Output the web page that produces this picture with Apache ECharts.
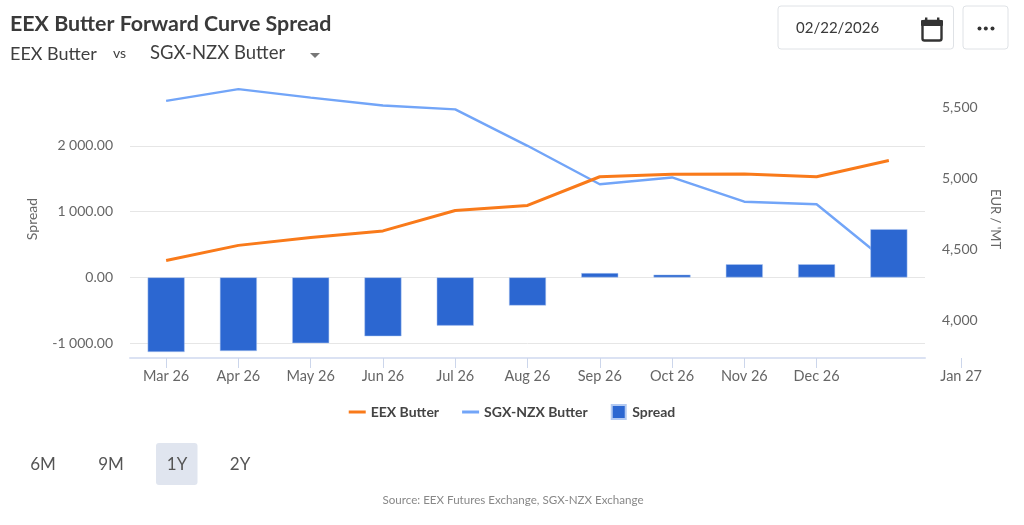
<!DOCTYPE html>
<html><head><meta charset="utf-8">
<style>html,body{margin:0;padding:0;background:#fff}#c{width:1024px;height:525px}</style>
<script src="https://cdn.jsdelivr.net/npm/echarts@6/dist/echarts.min.js"></script>
</head><body><div id="c"></div>
<script>
const categories = ['Mar 26','Apr 26','May 26','Jun 26','Jul 26','Aug 26','Sep 26','Oct 26','Nov 26','Dec 26',''];
const tickLabels = categories.concat(['Jan 27']);
const eexButter = [4420,4526,4582,4628,4772,4808,5010,5028,5030,5010,5125];
const sgxButter = [5545,5628,5568,5512,5485,5228,4957,5005,4834,4816,4402];
const spread = [-1134,-1119,-1000,-895,-733,-428,65,42,200,200,733];
const spreadTicks = [-1000,0,1000,2000];
const priceTicks = [4000,4500,5000,5500];
const rangeButtons = [['6M',43],['9M',111],['1Y',177],['2Y',240]];
const FONT = 'Lato';
const txt = (text,x,y,size,fill,extra) => ({type:'text',x,y,silent:true,style:Object.assign({text,fontFamily:FONT,fontSize:size,fill,textVerticalAlign:'middle'},extra||{})});
const box = (x,y,w,h,r,fill,stroke,lw) => ({type:'rect',silent:true,shape:{x,y,width:w,height:h,r},style:{fill,stroke,lineWidth:lw||1}});
const chart = echarts.init(document.getElementById('c'),null,{renderer:'canvas'});
const axisText = {color:'#666',fontFamily:FONT,fontSize:14};
const lineIcon = 'path://M0,0H17V3H0Z';
chart.setOption({
  animation:false,
  backgroundColor:'#fff',
  textStyle:{fontFamily:FONT},
  grid:[
    {left:130,width:795,top:80,height:278},
    {left:130,width:867.3,top:80,height:278}
  ],
  xAxis:[
    {type:'category',gridIndex:0,data:categories,axisLine:{onZero:false,lineStyle:{color:'#dbe2f3',width:2}},axisTick:{show:false},axisLabel:{show:false}},
    {type:'category',gridIndex:1,data:tickLabels,axisLine:{show:true,onZero:false,lineStyle:{color:'rgba(0,0,0,0)'}},
      axisTick:{show:true,alignWithLabel:true,length:10,lineStyle:{color:'#ccd6eb'},interval:(i,v)=>v!==''},
      axisLabel:Object.assign({},axisText,{fontSize:14.5,interval:0,margin:11,hideOverlap:false})}
  ],
  yAxis:[
    {type:'value',gridIndex:0,min:-1225,max:3000,name:'Spread',nameLocation:'middle',nameGap:91,nameRotate:90,
      nameTextStyle:{color:'#666',fontFamily:FONT,fontSize:14},
      axisLine:{show:false},axisTick:{show:false,customValues:spreadTicks},
      axisLabel:Object.assign({customValues:spreadTicks,margin:17,formatter:v=>v.toFixed(2).replace(/\B(?=(\d{3})+(?!\d))(?=.*\.)/g,' ')},axisText),
      splitLine:{show:true,lineStyle:{color:'#e6e6e6'}}},
    {type:'value',gridIndex:0,position:'right',min:3732,max:5692,name:"EUR / 'MT",nameLocation:'middle',nameGap:64,nameRotate:-90,
      nameTextStyle:{color:'#666',fontFamily:FONT,fontSize:13},
      axisLine:{show:false},axisTick:{show:false,customValues:priceTicks},
      axisLabel:Object.assign({customValues:priceTicks,margin:17,formatter:v=>v.toLocaleString('en-US')},axisText),
      splitLine:{show:false}},
    {type:'value',gridIndex:1,show:false,min:0,max:1}
  ],
  legend:{
    data:[{name:'EEX Butter',icon:lineIcon},{name:'SGX-NZX Butter',icon:lineIcon},{name:'Spread',icon:'path://M0,0H14V14H0Z'}],
    top:399,left:'center',itemWidth:17,itemHeight:14,itemGap:23,symbolKeepAspect:true,
    selectedMode:false,
    textStyle:{color:'#444',fontFamily:FONT,fontSize:14,fontWeight:'bold'}
  },
  series:[
    {name:'SGX-NZX Butter',type:'line',xAxisIndex:0,yAxisIndex:1,data:sgxButter,showSymbol:false,symbol:'none',z:1,lineStyle:{color:'#72a5f8',width:2.4},itemStyle:{color:'#72a5f8'}},
    {name:'Spread',type:'bar',xAxisIndex:0,yAxisIndex:0,data:spread,barWidth:37,z:2,itemStyle:{color:'#2c67d1',borderColor:'#b3caf2',borderWidth:0.5}},
    {name:'EEX Butter',type:'line',xAxisIndex:0,yAxisIndex:1,data:eexButter,showSymbol:false,symbol:'none',z:3,lineStyle:{color:'#f97a1a',width:3},itemStyle:{color:'#f97a1a'}}
  ],
  graphic:[
    txt('EEX Butter Forward Curve Spread',10,24,21.4,'#3a3a3a',{fontWeight:'bold'}),
    txt('EEX Butter',10,54,18,'#3f3f3f'),
    txt('vs',113,53,14,'#3f3f3f'),
    txt('SGX-NZX Butter',150,53,18.5,'#3f3f3f'),
    {type:'polygon',silent:true,shape:{points:[[310,53],[320,53],[315,58]]},style:{fill:'#777'}},
    box(778,6,175.5,43,3,'#fff','#dfe2e6'),
    txt('02/22/2026',796,28,15,'#3a3a3a'),
    box(922.5,21,19,19.5,2,'none','#333',2.4),
    {type:'rect',silent:true,shape:{x:921,y:20,width:22,height:6,r:1},style:{fill:'#333'}},
    {type:'rect',silent:true,shape:{x:925,y:17.5,width:2.4,height:4},style:{fill:'#333'}},
    {type:'rect',silent:true,shape:{x:937,y:17.5,width:2.4,height:4},style:{fill:'#333'}},
    box(963,6,45,43,3,'#fff','#dfe2e6'),
    {type:'circle',silent:true,shape:{cx:979.5,cy:28.5,r:2},style:{fill:'#333'}},
    {type:'circle',silent:true,shape:{cx:985.8,cy:28.5,r:2},style:{fill:'#333'}},
    {type:'circle',silent:true,shape:{cx:992.5,cy:28.5,r:2},style:{fill:'#333'}},
    box(156,443,41.5,42,3,'#e0e5ef','none'),
    ...rangeButtons.map(b=>txt(b[0],b[1],465,17,'#555',{textAlign:'center'})),
    txt('Source: EEX Futures Exchange, SGX-NZX Exchange',513,500,11.6,'#888',{textAlign:'center'})
  ]
});
</script></body></html>
